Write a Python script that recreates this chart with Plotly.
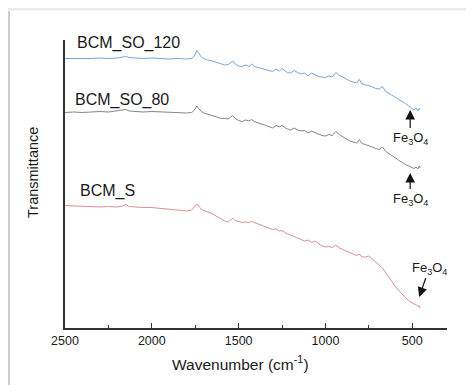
import plotly.graph_objects as go

# Wavenumber grid (cm^-1)
wavenumber = [2500, 2450, 2400, 2350, 2300, 2250, 2200, 2170, 2150, 2130, 2100, 2050, 2000, 1950,
              1900, 1850, 1800, 1770, 1755, 1741, 1730, 1715, 1700, 1680, 1660, 1640, 1620, 1600,
              1580, 1560, 1545, 1534, 1520, 1500, 1480, 1460, 1440, 1425, 1410, 1390, 1370, 1350,
              1330, 1305, 1285, 1265, 1250, 1236, 1220, 1200, 1180, 1160, 1140, 1120, 1100, 1080,
              1060, 1040, 1020, 1000, 980, 960, 940, 920, 900, 880, 860, 840, 820, 805, 790, 770,
              750, 730, 710, 690, 672, 655, 640, 620, 600, 580, 560, 540, 520, 505, 490, 478, 468,
              460, 455]

# Transmittance (arbitrary units, offset spectra)
bcm_so_120 = [269.5, 269.5, 269, 269.5, 270, 269.5, 270, 270.5, 271.5, 270.5, 270, 269.5, 270, 269.5,
              269, 269.5, 269, 269.5, 272, 277.5, 275, 271, 269.5, 268, 267.5, 266.5, 265, 264,
              263, 263.5, 266, 267, 264, 262, 261.5, 263, 261.5, 264, 261.5, 260.5, 259.5, 259,
              257.5, 256.5, 259, 257, 259.5, 258, 255.5, 255, 257.5, 255.5, 254, 255, 252, 255,
              253.5, 251.5, 251, 250.5, 252, 251, 255.5, 252.5, 251, 249, 247, 246, 245, 248.5,
              244, 243, 242.5, 241, 239.5, 239, 241.5, 237, 235, 233, 231, 229, 227, 224.5, 222,
              219.5, 218, 220, 217, 219.5, 218]

bcm_so_80 = [215.5, 216, 215.5, 216, 216.5, 216, 217, 217.5, 218.5, 217, 216.5, 216, 216.5, 216,
             215.5, 215.5, 215, 215.5, 218, 222, 220, 216.5, 215, 214, 213, 212, 211, 209.5,
             209.5, 209, 211, 212.5, 209.5, 207.5, 206.5, 208, 207, 208.5, 206.5, 205, 204, 203,
             201.5, 200, 202.5, 201, 202.5, 201, 199, 198, 200, 198, 197, 197.5, 195, 197,
             195.5, 193.5, 192.5, 192, 193.5, 192.5, 196.5, 193.5, 191, 189, 187, 186, 185, 188.5,
             184.5, 183.5, 182.5, 181, 179.5, 178.5, 181, 177, 175, 173, 170.5, 168, 165.5, 163.5,
             162, 160.5, 159.5, 161, 159, 162, 160]

bcm_s = [122.5, 122, 121.5, 121.5, 121, 121.5, 121, 122, 123.5, 121.5, 121, 120.5, 120.5, 119.5,
         118.5, 117.5, 117, 118, 121, 124, 122, 118.5, 117.5, 116.5, 115, 113, 111, 109,
         107, 106, 108, 110, 107.5, 106.5, 105.5, 106, 105.5, 106.5, 105.5, 104, 102.5, 101,
         99.5, 98.5, 99, 97, 97.5, 96, 94, 93, 91.5, 90.5, 89, 87, 88, 85.5,
         87, 84.5, 82, 81, 81.5, 80.5, 83, 80, 78.5, 77, 75.5, 74, 72.5, 74,
         71, 71, 72, 69, 66, 63, 60, 56, 52, 47, 42, 38, 34, 30.5,
         27.5, 25.5, 24, 23.5, 21.5, 22.5, 20]

series_names = ["BCM_SO_120", "BCM_SO_80", "BCM_S"]
series_values = [bcm_so_120, bcm_so_80, bcm_s]
series_colors = ["#78a6d8", "#858585", "#dc9090"]

label_x = [2443, 2454, 2425]
label_y = [285, 228, 137]

x_ticks = [2500, 2000, 1500, 1000, 500]

fe_tip_x = [512, 512, 460]
fe_tip_y = [218, 155, 31]
fe_ax = [0, 0, 10]
fe_ay = [28, 26, -29]

fig = go.Figure()
for name, vals, col in zip(series_names, series_values, series_colors):
    fig.add_trace(go.Scatter(x=wavenumber, y=vals, mode="lines", name=name,
                             line=dict(color=col, width=1), showlegend=False))

FONT = "Liberation Sans, Arial"
annotations = []
for name, lx, ly in zip(series_names, label_x, label_y):
    annotations.append(dict(x=lx, y=ly, xref="x", yref="y", text=name, showarrow=False,
                            xanchor="left", yanchor="middle",
                            font=dict(family=FONT, size=16, color="#1a1a1a")))
for tx, ty, ax, ay in zip(fe_tip_x, fe_tip_y, fe_ax, fe_ay):
    annotations.append(dict(x=tx, y=ty, xref="x", yref="y", text="Fe<sub>3</sub>O<sub>4</sub>",
                            showarrow=True, ax=ax, ay=ay, arrowhead=2, arrowsize=1.6,
                            arrowwidth=1.2, arrowcolor="#111111", standoff=0,
                            font=dict(family=FONT, size=13, color="#1a1a1a")))

# page offset (browser body margin) and reference-pixel geometry
OFF = 8
W, H = 474 - OFF, 385 - OFF
L, R, T, B = 65 - OFF, 447 - OFF, 40 - OFF, 328 - OFF


def px(v):
    return (v - OFF - L) / (R - L)


def py(v):
    return (B - (v - OFF)) / (B - T)


annotations.append(dict(x=px(240), y=py(363), xref="paper", yref="paper",
                        text="Wavenumber (cm<sup>-1</sup>)", showarrow=False,
                        xanchor="center", yanchor="middle",
                        font=dict(family=FONT, size=15.5, color="#1a1a1a")))
annotations.append(dict(x=px(33), y=py(173), xref="paper", yref="paper",
                        text="Transmittance", showarrow=False, textangle=-90,
                        xanchor="center", yanchor="middle",
                        font=dict(family=FONT, size=14.5, color="#1a1a1a")))

shapes = [
    dict(type="rect", xref="paper", yref="paper", x0=px(4), x1=px(10), y0=py(11), y1=py(395),
         fillcolor="#dedede", line=dict(width=0), layer="below"),
    dict(type="rect", xref="paper", yref="paper", x0=px(8), x1=px(10), y0=py(11), y1=py(395),
         fillcolor="#cfcfcf", line=dict(width=0), layer="below"),
    dict(type="rect", xref="paper", yref="paper", x0=px(8), x1=px(490), y0=py(7), y1=py(10.5),
         fillcolor="#ececec", line=dict(width=0), layer="below"),
]

fig.update_layout(
    width=W, height=H,
    margin=dict(l=L, r=W - R, t=T, b=H - B),
    paper_bgcolor="white", plot_bgcolor="white",
    annotations=annotations, shapes=shapes,
    xaxis=dict(range=[2500, 300], tickvals=x_ticks, ticks="inside", ticklen=5, tickwidth=1.2,
               tickcolor="#333333", showline=True, linecolor="#333333", linewidth=1.5,
               showgrid=False, zeroline=False,
               tickfont=dict(family=FONT, size=12.5, color="#1a1a1a"),
               minor=dict(tickvals=[2250, 1750, 1250, 750], ticks="inside", ticklen=3,
                          tickcolor="#333333", tickwidth=1.2)),
    yaxis=dict(range=[0, 288], showticklabels=False, ticks="", showline=True,
               linecolor="#333333", linewidth=1.5, showgrid=False, zeroline=False),
)

fig.write_html("out.html")
